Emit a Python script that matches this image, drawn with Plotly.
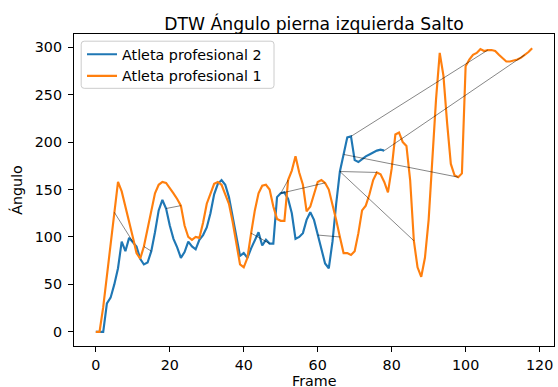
import plotly.graph_objects as go

# Ángulo series (one value per frame)
atleta2 = [0, 0, 0, 30, 36, 50, 67, 95, 85, 99,
           95, 90, 77, 71, 73, 85, 105, 128, 139, 130,
           112, 98, 89, 78, 84, 95, 90, 87, 97, 102,
           110, 125, 145, 156, 160, 155, 142, 122, 100, 80,
           83, 78, 88, 96, 105, 91, 97, 93, 93, 142,
           146, 147, 140, 125, 98, 100, 104, 118, 126, 118,
           102, 86, 72, 67, 95, 135, 169, 187, 205, 206,
           181, 179, 182, 185, 187, 189, 191, 192, 191]

atleta1 = [0, 0, 26, 60, 93, 126, 158, 148, 133, 116,
           100, 83, 77, 90, 108, 127, 146, 155, 158, 157,
           152, 146, 140, 133, 112, 100, 97, 100, 99, 115,
           135, 146, 156, 158, 155, 145, 135, 116, 92, 71,
           68, 78, 104, 128, 146, 154, 155, 150, 132, 119,
           117, 117, 160, 170, 185, 168, 155, 127, 132, 145,
           158, 160, 157, 150, 135, 118, 100, 83, 83, 81,
           85, 104, 128, 133, 145, 160, 168, 166, 158, 147,
           172, 208, 210, 200, 196, 160, 96, 68, 58, 78,
           118, 180, 245, 294, 270, 220, 177, 165, 163, 167,
           280, 287, 292, 294, 298, 296, 297, 297, 296, 292,
           288, 285, 285, 286, 287, 289, 292, 295, 299]

# DTW matched pairs that are drawn: (frame in atleta2, frame in atleta1)
pares_a2 = [10, 15, 19, 47, 50, 50, 60, 66, 66, 67, 69, 78]
pares_a1 = [5, 13, 23, 42, 52, 62, 66, 76, 86, 98, 106, 116]

x_ticks = [0, 20, 40, 60, 80, 100, 120]
y_ticks = [0, 50, 100, 150, 200, 250, 300]

FONT = "DejaVu Sans"
FS = 14.3      # 10 pt text
FT = 17.2      # 12 pt title

fig = go.Figure()
fig.add_trace(go.Scatter(x=list(range(len(atleta2))), y=atleta2, mode="lines",
                         name="Atleta profesional 2",
                         line=dict(color="#1f77b4", width=2.15)))
fig.add_trace(go.Scatter(x=list(range(len(atleta1))), y=atleta1, mode="lines",
                         name="Atleta profesional 1",
                         line=dict(color="#ff7f0e", width=2.15)))

cx, cy = [], []
for i, j in zip(pares_a2, pares_a1):
    cx += [i, j, None]
    cy += [atleta2[i], atleta1[j], None]
fig.add_trace(go.Scatter(x=cx, y=cy, mode="lines", showlegend=False,
                         line=dict(color="rgba(0,0,0,0.6)", width=0.8),
                         hoverinfo="skip"))

n = max(len(atleta1), len(atleta2)) - 1
ymax = max(max(atleta1), max(atleta2))
axis_common = dict(showline=True, mirror=True, linecolor="black", linewidth=1.15,
                   ticks="outside", ticklen=5, tickwidth=1.15, tickcolor="black",
                   showgrid=False, zeroline=False, automargin=False,
                   tickfont=dict(family=FONT, size=FS, color="black"))

# legend frame (matplotlib-like, rounded corners), in paper coordinates
PW, PH = 480.0, 312.5
lx0, lx1 = (81.2 - 74) / PW, (274 - 74) / PW
ly0, ly1 = (346.5 - 88.4) / PH, (346.5 - 41.2) / PH
rx, ry = 3 / PW, 3 / PH
legend_path = (f"M{lx0 + rx},{ly1} L{lx1 - rx},{ly1} Q{lx1},{ly1} {lx1},{ly1 - ry} "
               f"L{lx1},{ly0 + ry} Q{lx1},{ly0} {lx1 - rx},{ly0} "
               f"L{lx0 + rx},{ly0} Q{lx0},{ly0} {lx0},{ly0 + ry} "
               f"L{lx0},{ly1 - ry} Q{lx0},{ly1} {lx0 + rx},{ly1} Z")

fig.update_layout(
    width=558, height=387,
    margin=dict(l=74, r=4, t=34, b=40.5, autoexpand=False),
    paper_bgcolor="white", plot_bgcolor="white",
    font=dict(family=FONT, size=FS, color="black"),
    title=dict(text="DTW Ángulo pierna izquierda Salto",
               font=dict(family=FONT, size=FT, color="black"),
               x=0.5, xref="paper", xanchor="center",
               y=1 - 30 / 387, yref="container", yanchor="bottom"),
    xaxis=dict(range=[-0.05 * n, n * 1.05], tickvals=x_ticks, ticklabelstandoff=1,
               **axis_common),
    yaxis=dict(range=[-0.05 * ymax, ymax * 1.05], tickvals=y_ticks, ticklabelstandoff=3,
               title=dict(text="Ángulo", standoff=8,
                          font=dict(family=FONT, size=FS, color="black")),
               **axis_common),
    shapes=[dict(type="path", xref="paper", yref="paper", path=legend_path,
                 fillcolor="rgba(255,255,255,0.8)", line=dict(color="#cccccc", width=1),
                 layer="above")],
    annotations=[dict(text="Frame", xref="paper", yref="paper", x=0.5,
                      y=(346.5 - 372.5) / PH, xanchor="center", yanchor="top",
                      showarrow=False, borderpad=0,
                      font=dict(family=FONT, size=FS, color="black"))],
    legend=dict(x=(82 - 74) / PW, y=(346.5 - 38.5) / PH, xanchor="left", yanchor="top",
                bgcolor="rgba(0,0,0,0)", borderwidth=0,
                font=dict(family=FONT, size=FS, color="black")),
)

fig.write_html("out.html")
